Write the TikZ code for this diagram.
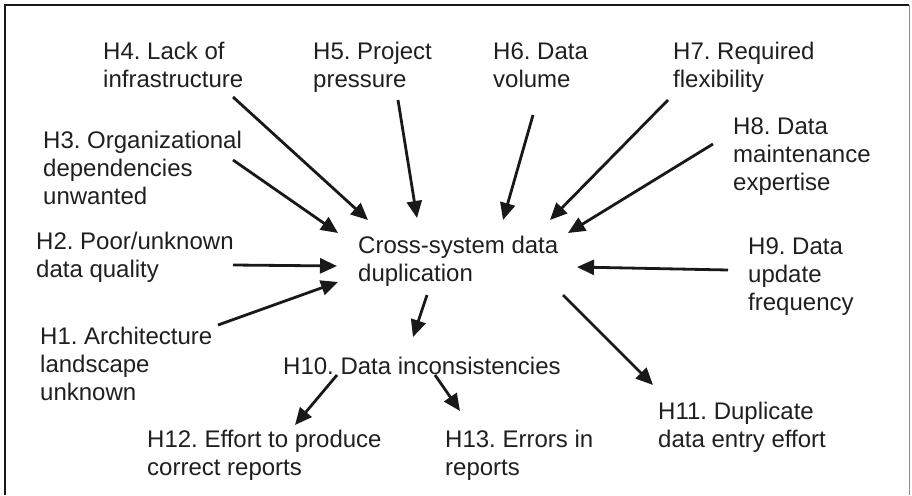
\documentclass[tikz,border=0pt]{standalone}
\usepackage{fontspec}
\setmainfont{Liberation Sans}
\usetikzlibrary{arrows.meta}
\frenchspacing
\tikzset{
  lbl/.style={anchor=base west, align=left, inner sep=0pt, text=black!88,
    font=\fontsize{24}{27.6}\selectfont\frenchspacing},
  arr/.style={line width=2.8pt, black!90, -{Triangle[length=17pt,width=15pt]}},
}
\begin{document}
\begin{tikzpicture}[x=1pt,y=-1pt]
\useasboundingbox (0,0) rectangle (912,495);
\draw[line width=2.6pt, black!90] (5,495) -- (5,5) -- (909,5);
\draw[line width=1.6pt, black!45] (909.5,5) -- (909.5,495);

% anchors give the baseline of the last line
\node[lbl] (h4) at (103,87.5) {H4. Lack of\\infrastructure};
\node[lbl] (h5) at (313,87.5) {H5. Project\\pressure};
\node[lbl] (h6) at (493,87.5) {H6. Data\\volume};
\node[lbl] (h7) at (673,87.5) {H7. Required\\flexibility};
\node[lbl] (h3) at (43,204) {H3. Organizational\\dependencies\\unwanted};
\node[lbl] (h8) at (733,190) {H8. Data\\maintenance\\expertise};
\node[lbl] (h2) at (36,277) {H2. Poor/unknown\\data quality};
\node[lbl] (h9) at (748,310) {H9. Data\\update\\frequency};
\node[lbl] (h1) at (40,400) {H1. Architecture\\landscape\\unknown};
\node[lbl] (c) at (358,281) {Cross-system data\\duplication};
\node[lbl] (h10) at (283,374) {H10. Data inconsistencies};
\node[lbl] (h11) at (658,447) {H11. Duplicate\\data entry effort};
\node[lbl] (h12) at (147,475) {H12. Effort to produce\\correct reports};
\node[lbl] (h13) at (445,475) {H13. Errors in\\reports};

% connector end points
\coordinate (a4s) at (233,97);  \coordinate (a4e) at (368,220);
\coordinate (a5s) at (398,100); \coordinate (a5e) at (417,218);
\coordinate (a3s) at (233,160); \coordinate (a3e) at (338,233);
\coordinate (a6s) at (533,115); \coordinate (a6e) at (503,220);
\coordinate (a7s) at (668,100); \coordinate (a7e) at (550,220);
\coordinate (a8s) at (713,144); \coordinate (a8e) at (568,233);
\coordinate (a2s) at (233,265); \coordinate (a2e) at (337,266);
\coordinate (a1s) at (218,325); \coordinate (a1e) at (338,282);
\coordinate (a9s) at (728,270); \coordinate (a9e) at (577,267);
\coordinate (b10s) at (427,295); \coordinate (b10e) at (413,337);
\coordinate (b11s) at (563,295); \coordinate (b11e) at (653,385);
\coordinate (b12s) at (337,375); \coordinate (b12e) at (295,425);
\coordinate (b13s) at (435,375); \coordinate (b13e) at (460,411);

\draw[arr] (a4s) -- (a4e);
\draw[arr] (a5s) -- (a5e);
\draw[arr] (a3s) -- (a3e);
\draw[arr] (a6s) -- (a6e);
\draw[arr] (a7s) -- (a7e);
\draw[arr] (a8s) -- (a8e);
\draw[arr] (a2s) -- (a2e);
\draw[arr] (a1s) -- (a1e);
\draw[arr] (a9s) -- (a9e);
\draw[arr] (b10s) -- (b10e);
\draw[arr] (b11s) -- (b11e);
\draw[arr] (b12s) -- (b12e);
\draw[arr] (b13s) -- (b13e);
\end{tikzpicture}
\end{document}
